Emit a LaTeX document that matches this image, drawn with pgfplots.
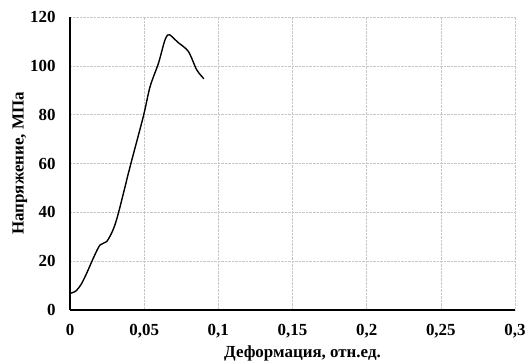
\documentclass[border=0pt]{standalone}
\usepackage{fontspec}
\setmainfont{Liberation Serif}
\usepackage{pgfplots}
\pgfplotsset{compat=1.18}
\begin{document}
\begin{tikzpicture}
\begin{axis}[
  scale only axis,
  width=445bp, height=293bp,
  xmin=0, xmax=0.3, ymin=0, ymax=120,
  xtick={0,0.05,0.1,0.15,0.2,0.25,0.3},
  xticklabels={0,{0,05},{0,1},{0,15},{0,2},{0,25},{0,3}},
  ytick={0,20,40,60,80,100,120},
  yticklabels={0,20,40,60,80,100,120},
  axis x line*=bottom, axis y line*=left,
  axis line style={black, line width=1.2pt, -},
  tick style={draw=none},
  grid=major,
  major grid style={gray!45, densely dotted, line width=0.6pt},
  ticklabel style={font=\fontsize{17}{19}\selectfont\bfseries},
  xticklabel style={yshift=-11bp},
  yticklabel style={xshift=-11bp},
  xlabel={Деформация, отн.ед.},
  ylabel={Напряжение, МПа},
  label style={font=\fontsize{17}{19}\selectfont\bfseries},
  xlabel style={yshift=-1bp, xshift=10bp},
  ylabel style={yshift=-4bp},
  clip=false,
]
\addplot[black, line width=1.4pt, smooth, tension=0.5] coordinates {
(0,6.8) (0.004,7.8) (0.0075,10.5) (0.0112,15) (0.0157,21.2) (0.0202,26.6) (0.0247,28)
(0.029,32.8) (0.0326,39.6) (0.0405,58.7) (0.0494,79.2) (0.054,91.5)
(0.0596,101) (0.0637,110) (0.0658,112.6) (0.0672,112.7) (0.069,111.8) (0.073,109.5) (0.0798,105.9)
(0.0854,98.4) (0.0903,94.7)
};
\coordinate (sw) at (rel axis cs:0,0);
\coordinate (ne) at (rel axis cs:1,1);
\end{axis}
\pgfresetboundingbox
\path ([shift={(-70bp,-53bp)}]sw) rectangle ([shift={(16bp,17bp)}]ne);
\end{tikzpicture}
\end{document}
